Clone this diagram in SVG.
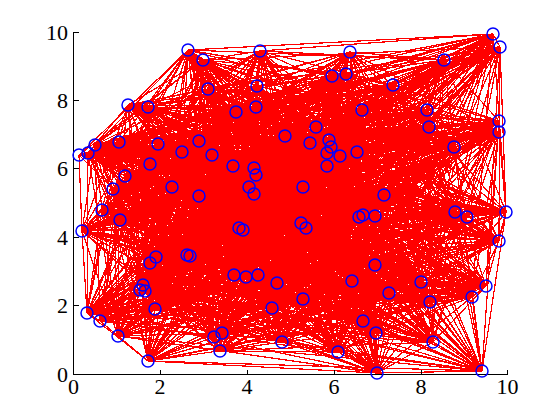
<svg xmlns="http://www.w3.org/2000/svg" width="560" height="420" viewBox="0 0 560 420">
<style>
.e{fill:none;stroke:#ff0000;stroke-width:1.2;stroke-linejoin:round;shape-rendering:crispEdges}
.n circle{fill:none;stroke:#0000ff;stroke-width:1.5}
.ax{stroke:#000;stroke-width:1;fill:none;shape-rendering:crispEdges}
.t{font-family:"Liberation Serif","Times New Roman",serif;font-size:22px;fill:#000}
.ty{text-anchor:end}
.tx{text-anchor:middle}
</style>
<rect width="560" height="420" fill="#fff"/>
<g id="edges">
<polyline class="e" points="79,155 88,153 95,145 119,142 128,105 148,107 158,144 150,164 125,176 113,189 172,187 182,152 188,50 203,60 260,51 208,89 257,86 256,107 236,112 285,136 199,141 212,155 233,166 254,168 256,175 249,187 254,194 199,196 350,52 332,76 346,74 393,85 362,110 316,127 310,143 329,140 331,147 327,153 340,156 357,152 327,166 303,187 384,195 493,34 500,47 444,60 427,110 429,127 499,121 499,132 454,147 102,210 120,220 82,231 156,257 150,263 143,285 140,290 145,291 155,309 87,313 100,321 118,336 148,361 239,228 243,230 187,255 190,256 234,275 246,277 258,275 277,283 272,308 222,333 214,337 220,351 282,342 359,217 363,215 375,216 301,223 306,228 375,265 352,281 389,293 303,299 363,321 376,333 338,352 377,373 455,212 467,217 506,212 499,241 421,282 486,286 472,297 430,302 433,342 482,371"/>
<polyline class="e" points="79,155 119,142 158,144 113,189 188,50 208,89 236,112 212,155 256,175 199,196 346,74 316,127 331,147 357,152 384,195 444,60 499,121 102,210 156,257 140,290 87,313 148,361 187,255 246,277 272,308 220,351 363,215 306,228 389,293 376,333 455,212 499,241 472,297 482,371 95,145 148,107 125,176 182,152 260,51 256,107 199,141 254,168 254,194 332,76 362,110 329,140 340,156 303,187 500,47 429,127 454,147 82,231 143,285 155,309 118,336 243,230 234,275 277,283 214,337 359,217 301,223 352,281 363,321 377,373 506,212 486,286 433,342 88,153 128,105 150,164 172,187 203,60 257,86 285,136 233,166 249,187 350,52 393,85 310,143 327,153 327,166 493,34 427,110 499,132 120,220 150,263 145,291 100,321 239,228 190,256 258,275 222,333 282,342 375,216 375,265 303,299 338,352 467,217 421,282 430,302"/>
<polyline class="e" points="79,155 150,164 260,51 212,155 350,52 329,140 384,195 499,132 143,285 148,361 258,275 359,217 389,293 467,217 433,342 148,107 188,50 285,136 254,194 316,127 327,166 429,127 156,257 100,321 234,275 220,351 375,265 377,373 472,297 119,142 172,187 256,107 256,175 393,85 340,156 444,60 120,220 155,309 187,255 222,333 301,223 376,333 421,282 88,153 125,176 208,89 233,166 332,76 331,147 493,34 454,147 140,290 239,228 277,283 363,215 303,299 506,212 482,371 158,144 203,60 199,141 199,196 310,143 303,187 499,121 150,263 118,336 246,277 282,342 352,281 455,212 430,302 128,105 182,152 236,112 249,187 362,110 357,152 427,110 82,231 87,313 190,256 214,337 306,228 338,352 486,286 95,145 113,189 257,86 254,168 346,74 327,153 500,47 102,210 145,291 243,230 272,308 375,216 363,321 499,241"/>
<polyline class="e" points="79,155 113,189 236,112 199,196 331,147 444,60 156,257 148,361 272,308 306,228 455,212 482,371 125,176 256,107 254,194 329,140 500,47 82,231 118,336 277,283 301,223 377,373 433,342 150,164 257,86 249,187 310,143 493,34 120,220 100,321 258,275 375,216 338,352 430,302 158,144 208,89 256,175 316,127 384,195 102,210 87,313 246,277 363,215 376,333 472,297 148,107 260,51 254,168 362,110 303,187 454,147 155,309 234,275 359,217 363,321 486,286 128,105 203,60 233,166 393,85 327,166 499,132 145,291 190,256 282,342 303,299 421,282 119,142 188,50 212,155 346,74 357,152 499,121 140,290 187,255 220,351 389,293 499,241 95,145 182,152 199,141 332,76 340,156 429,127 143,285 243,230 214,337 352,281 506,212 88,153 172,187 285,136 350,52 327,153 427,110 150,263 239,228 222,333 375,265 467,217"/>
<polyline class="e" points="79,155 182,152 233,166 316,127 500,47 150,263 187,255 359,217 338,352 482,371 172,187 212,155 362,110 493,34 156,257 243,230 282,342 376,333 433,342 113,189 199,141 393,85 384,195 82,231 239,228 220,351 363,321 430,302 125,176 285,136 346,74 303,187 120,220 148,361 214,337 303,299 472,297 150,164 236,112 332,76 327,166 102,210 118,336 222,333 389,293 486,286 158,144 256,107 350,52 357,152 454,147 100,321 272,308 352,281 421,282 148,107 257,86 199,196 340,156 499,132 87,313 277,283 375,265 499,241 128,105 208,89 254,194 327,153 499,121 155,309 258,275 306,228 506,212 119,142 260,51 249,187 331,147 429,127 145,291 246,277 301,223 467,217 95,145 203,60 256,175 329,140 427,110 140,290 234,275 375,216 455,212 88,153 188,50 254,168 310,143 444,60 143,285 190,256 363,215 377,373"/>
<polyline class="e" points="79,155 203,60 254,194 357,152 120,220 243,230 363,215 467,217 128,105 256,107 346,74 493,34 143,285 246,277 375,265 486,286 125,176 212,155 310,143 429,127 87,313 222,333 363,321 482,371 188,50 249,187 340,156 102,210 239,228 359,217 455,212 119,142 257,86 332,76 384,195 150,263 234,275 306,228 421,282 150,164 199,141 316,127 427,110 155,309 272,308 303,299 433,342 182,152 256,175 327,153 454,147 148,361 282,342 377,373 95,145 208,89 350,52 303,187 156,257 190,256 301,223 499,241 158,144 285,136 362,110 444,60 145,291 277,283 389,293 430,302 172,187 254,168 331,147 499,132 118,336 220,351 338,352 88,153 260,51 199,196 327,166 82,231 187,255 375,216 506,212 148,107 236,112 393,85 500,47 140,290 258,275 352,281 472,297 113,189 233,166 329,140 499,121 100,321 214,337 376,333"/>
<polyline class="e" points="79,155 256,107 310,143 102,210 234,275 303,299 95,145 285,136 331,147 82,231 258,275 376,333 128,105 212,155 340,156 150,263 272,308 377,373 158,144 254,168 327,166 140,290 214,337 467,217 125,176 249,187 384,195 155,309 282,342 499,241 172,187 199,196 500,47 100,321 363,215 486,286 188,50 332,76 427,110 148,361 301,223 430,302 260,51 393,85 499,121 243,230 375,265 482,371 257,86 316,127 454,147 190,256 389,293 88,153 236,112 329,140 120,220 246,277 363,321 119,142 199,141 327,153 156,257 277,283 338,352 148,107 233,166 357,152 143,285 222,333 455,212 150,164 256,175 303,187 145,291 220,351 506,212 113,189 254,194 493,34 87,313 359,217 421,282 182,152 350,52 444,60 118,336 375,216 472,297 203,60 346,74 429,127 239,228 306,228 433,342 208,89 362,110 499,132 187,255 352,281"/>
<polyline class="e" points="79,155 285,136 340,156 140,290 282,342 486,286 260,51 316,127 120,220 277,283 455,212 113,189 350,52 429,127 190,256 303,299 128,105 254,168 384,195 100,321 301,223 482,371 236,112 327,153 143,285 220,351 421,282 203,60 362,110 102,210 258,275 377,373 125,176 199,196 427,110 243,230 389,293 119,142 233,166 303,187 87,313 375,216 433,342 256,107 331,147 150,263 214,337 499,241 188,50 393,85 454,147 246,277 338,352 150,164 254,194 444,60 239,228 352,281 95,145 212,155 327,166 155,309 363,215 430,302 257,86 329,140 156,257 222,333 506,212 182,152 346,74 499,132 234,275 376,333 158,144 249,187 500,47 148,361 375,265 88,153 199,141 357,152 145,291 359,217 472,297 208,89 310,143 82,231 272,308 467,217 172,187 332,76 499,121 190,256 363,321 148,107 256,175 493,34 118,336 306,228"/>
<polyline class="e" points="79,155 212,155 384,195 148,361 389,293 148,107 254,194 429,127 234,275 377,373 172,187 393,85 120,220 222,333 421,282 208,89 331,147 140,290 363,215 482,371 199,141 303,187 118,336 352,281 128,105 249,187 427,110 190,256 338,352 113,189 346,74 102,210 272,308 499,241 260,51 329,140 143,285 359,217 433,342 285,136 327,166 100,321 375,265 119,142 256,175 444,60 187,255 376,333 125,176 332,76 454,147 277,283 506,212 203,60 310,143 150,263 282,342 430,302 236,112 357,152 87,313 306,228 95,145 254,168 500,47 243,230 363,321 150,164 350,52 499,132 258,275 467,217 188,50 316,127 156,257 220,351 472,297 256,107 340,156 155,309 301,223 88,153 233,166 493,34 239,228 303,299 158,144 199,196 499,121 246,277 455,212 182,152 362,110 82,231 214,337 486,286 257,86 327,153 145,291 375,216"/>
<polyline class="e" points="79,155 254,168 427,110 246,277 506,212 208,89 340,156 100,321 389,293 150,164 346,74 82,231 282,342 482,371 233,166 444,60 234,275 467,217 260,51 327,153 87,313 352,281 158,144 332,76 120,220 220,351 433,342 212,155 500,47 190,256 455,212 203,60 331,147 155,309 375,265 148,107 350,52 102,210 214,337 430,302 199,141 493,34 187,255 377,373 188,50 329,140 145,291 306,228 128,105 199,196 454,147 222,333 472,297 285,136 384,195 243,230 338,352 182,152 310,143 140,290 301,223 119,142 254,194 499,132 272,308 486,286 236,112 303,187 239,228 376,333 172,187 316,127 143,285 375,216 95,145 249,187 499,121 277,283 421,282 256,107 327,166 148,361 363,321 113,189 362,110 150,263 363,215 88,153 256,175 429,127 258,275 499,241 257,86 357,152 118,336 303,299 125,176 393,85 156,257 359,217"/>
<polyline class="e" points="79,155 199,196 156,257 306,228 125,176 329,140 118,336 377,373 257,86 493,34 258,275 430,302 256,175 102,210 363,215 148,107 362,110 155,309 363,321 203,60 327,166 190,256 421,282 212,155 499,121 220,351 95,145 332,76 143,285 352,281 172,187 327,153 239,228 467,217 236,112 444,60 272,308 482,371 254,194 82,231 301,223 150,164 310,143 100,321 338,352 208,89 384,195 246,277 472,297 254,168 454,147 359,217 128,105 393,85 145,291 303,299 188,50 357,152 187,255 499,241 199,141 429,127 214,337 88,153 350,52 150,263 375,265 113,189 331,147 148,361 455,212 256,107 500,47 277,283 433,342 249,187 120,220 375,216 158,144 316,127 87,313 376,333 260,51 303,187 234,275 486,286 233,166 499,132 282,342 119,142 346,74 140,290 389,293 182,152 340,156 243,230 506,212 285,136 427,110 222,333"/>
<polyline class="e" points="79,155 332,76 145,291 376,333 257,86 444,60 214,337 119,142 362,110 100,321 455,212 285,136 499,121 359,217 158,144 329,140 239,228 499,241 233,166 102,210 301,223 113,189 340,156 190,256 472,297 249,187 156,257 352,281 188,50 303,187 258,275 482,371 350,52 140,290 363,321 208,89 500,47 222,333 95,145 393,85 87,313 377,373 236,112 429,127 282,342 148,107 310,143 148,361 506,212 212,155 454,147 375,216 125,176 327,153 187,255 486,286 256,175 82,231 375,265 182,152 327,166 246,277 433,342 199,196 143,285 303,299 260,51 493,34 272,308 88,153 346,74 155,309 338,352 256,107 427,110 220,351 128,105 316,127 118,336 467,217 199,141 499,132 363,215 150,164 331,147 243,230 421,282 254,168 120,220 306,228 172,187 357,152 234,275 430,302 254,194 150,263 389,293 203,60 384,195 277,283"/>
<polyline class="e" points="79,155 393,85 118,336 499,241 256,175 150,263 363,321 256,107 499,121 375,216 172,187 303,187 272,308 119,142 310,143 243,230 472,297 199,196 145,291 377,373 199,141 102,210 375,265 203,60 500,47 220,351 158,144 327,153 234,275 482,371 346,74 100,321 506,212 254,168 156,257 303,299 257,86 429,127 363,215 113,189 327,166 277,283 95,145 316,127 239,228 486,286 254,194 140,290 338,352 285,136 454,147 306,228 188,50 493,34 214,337 148,107 331,147 190,256 433,342 332,76 87,313 467,217 233,166 82,231 389,293 208,89 427,110 359,217 125,176 357,152 258,275 88,153 362,110 148,361 421,282 249,187 143,285 376,333 236,112 499,132 301,223 182,152 384,195 222,333 128,105 329,140 187,255 430,302 350,52 155,309 455,212 212,155 120,220 352,281 260,51 444,60 282,342 150,164 340,156 246,277"/>
<polyline class="e" points="79,155 316,127 187,255 482,371 362,110 243,230 433,342 393,85 239,228 430,302 346,74 148,361 472,297 332,76 118,336 486,286 350,52 100,321 421,282 199,196 87,313 499,241 254,194 155,309 506,212 249,187 145,291 467,217 256,175 140,290 455,212 254,168 143,285 377,373 233,166 150,263 338,352 212,155 156,257 376,333 199,141 82,231 363,321 285,136 120,220 303,299 236,112 102,210 389,293 256,107 454,147 352,281 257,86 499,132 375,265 208,89 499,121 306,228 260,51 429,127 301,223 203,60 427,110 375,216 188,50 444,60 363,215 182,152 500,47 359,217 172,187 493,34 282,342 113,189 384,195 220,351 125,176 303,187 214,337 150,164 327,166 222,333 158,144 357,152 272,308 148,107 340,156 277,283 128,105 327,153 258,275 119,142 331,147 246,277 95,145 329,140 234,275 88,153 310,143 190,256"/>
<polyline class="e" points="79,155 327,153 214,337 182,152 499,121 303,299 233,166 155,309 472,297 316,127 258,275 150,164 500,47 306,228 236,112 150,263 506,212 332,76 187,255 119,142 327,166 359,217 260,51 102,210 338,352 249,187 118,336 482,371 331,147 222,333 172,187 429,127 389,293 212,155 145,291 486,286 362,110 246,277 158,144 493,34 301,223 256,107 156,257 467,217 350,52 243,230 95,145 357,152 282,342 203,60 454,147 376,333 256,175 100,321 433,342 329,140 272,308 113,189 427,110 352,281 199,141 140,290 421,282 393,85 234,275 148,107 384,195 375,216 257,86 82,231 455,212 199,196 239,228 88,153 340,156 220,351 188,50 499,132 363,321 254,168 87,313 430,302 310,143 277,283 125,176 444,60 375,265 285,136 143,285 499,241 346,74 190,256 128,105 303,187 363,215 208,89 120,220 377,373 254,194 148,361"/>
<polyline class="e" points="79,155 357,152 363,215 256,107 143,285 486,286 310,143 222,333 188,50 102,210 455,212 332,76 234,275 150,164 427,110 303,299 256,175 148,361 95,145 303,187 301,223 285,136 145,291 430,302 331,147 220,351 260,51 82,231 506,212 393,85 258,275 113,189 499,121 376,333 254,194 243,230 128,105 493,34 375,265 212,155 87,313 482,371 340,156 359,217 257,86 150,263 421,282 316,127 272,308 182,152 454,147 377,373 350,52 190,256 158,144 444,60 389,293 254,168 118,336 88,153 327,166 375,216 236,112 140,290 472,297 329,140 214,337 203,60 120,220 467,217 346,74 246,277 125,176 429,127 363,321 249,187 239,228 119,142 384,195 306,228 199,141 155,309 433,342 327,153 282,342 208,89 156,257 499,241 362,110 277,283 172,187 499,132 338,352 199,196 187,255 148,107 500,47 352,281 233,166 100,321"/>
<polyline class="e" points="79,155 303,187 375,265 254,168 239,228 148,107 427,110 376,333 350,52 246,277 172,187 102,210 506,212 316,127 214,337 208,89 143,285 430,302 340,156 375,216 199,141 100,321 95,145 493,34 389,293 249,187 187,255 150,164 499,121 377,373 346,74 277,283 188,50 82,231 421,282 329,140 282,342 256,107 145,291 482,371 327,166 306,228 233,166 148,361 128,105 444,60 363,321 199,196 234,275 113,189 454,147 467,217 362,110 222,333 260,51 150,263 472,297 327,153 363,215 285,136 87,313 88,153 384,195 352,281 256,175 243,230 158,144 429,127 338,352 332,76 258,275 182,152 120,220 499,241 310,143 220,351 257,86 140,290 433,342 357,152 301,223 212,155 118,336 119,142 500,47 303,299 254,194 190,256 125,176 499,132 455,212 393,85 272,308 203,60 156,257 486,286 331,147 359,217 236,112 155,309"/>
<polyline class="e" points="79,155 493,34 363,321 332,76 272,308 208,89 145,291 88,153 500,47 376,333 346,74 222,333 257,86 155,309 95,145 444,60 338,352 393,85 214,337 256,107 87,313 119,142 427,110 377,373 362,110 220,351 236,112 100,321 128,105 429,127 455,212 316,127 282,342 285,136 118,336 148,107 499,121 467,217 310,143 359,217 199,141 148,361 158,144 499,132 506,212 329,140 363,215 212,155 239,228 150,164 454,147 499,241 331,147 375,216 233,166 243,230 125,176 102,210 421,282 327,153 301,223 254,168 187,255 113,189 120,220 486,286 340,156 306,228 256,175 190,256 172,187 82,231 472,297 357,152 375,265 249,187 234,275 182,152 156,257 430,302 327,166 352,281 254,194 246,277 188,50 150,263 433,342 303,187 389,293 199,196 258,275 203,60 143,285 482,371 384,195 303,299 350,52 277,283 260,51 140,290"/>
<polyline class="e" points="79,155 429,127 421,282 303,187 338,352 329,140 375,265 332,76 282,342 254,168 258,275 256,107 239,228 182,152 145,291 148,107 120,220 482,371 427,110 499,241 327,166 376,333 310,143 306,228 350,52 220,351 233,166 246,277 257,86 148,361 172,187 140,290 128,105 102,210 433,342 444,60 506,212 357,152 363,321 316,127 301,223 199,196 214,337 212,155 234,275 208,89 118,336 113,189 143,285 119,142 454,147 430,302 500,47 467,217 340,156 303,299 362,110 375,216 254,194 222,333 199,141 190,256 260,51 100,321 125,176 150,263 95,145 499,132 472,297 493,34 455,212 327,153 389,293 393,85 363,215 249,187 272,308 285,136 187,255 203,60 87,313 150,164 156,257 88,153 499,121 486,286 384,195 377,373 331,147 352,281 346,74 359,217 256,175 277,283 236,112 243,230 188,50 155,309 158,144 82,231"/>
<polyline class="e" points="79,155 499,132 433,342 429,127 472,297 444,60 421,282 493,34 506,212 303,187 455,212 357,152 338,352 327,153 363,321 329,140 389,293 316,127 375,265 393,85 301,223 332,76 363,215 199,196 282,342 249,187 214,337 254,168 272,308 212,155 258,275 285,136 234,275 256,107 187,255 208,89 239,228 203,60 118,336 182,152 87,313 113,189 145,291 150,164 143,285 148,107 156,257 119,142 120,220 88,153 454,147 482,371 499,121 430,302 427,110 486,286 500,47 499,241 384,195 467,217 327,166 377,373 340,156 376,333 331,147 303,299 310,143 352,281 362,110 306,228 346,74 375,216 350,52 359,217 254,194 220,351 256,175 222,333 233,166 277,283 199,141 246,277 236,112 190,256 257,86 243,230 260,51 148,361 188,50 100,321 172,187 155,309 125,176 140,290 158,144 150,263 128,105 82,231 95,145 102,210"/>
<polyline class="e" points="82,231 79,155 188,50"/>
<polyline class="e" points="148,361 377,373 482,371 148,361"/>
<polyline class="e" points="500,47 506,212"/>
</g>
<g id="axes">
<path class="ax" d="M73.5,32V374.5H508M73.5,305.5h5M73.5,237.5h5M73.5,168.5h5M73.5,100.5h5M73.5,32.5h5M160.5,374.5v-5M247.5,374.5v-5M334.5,374.5v-5M421.5,374.5v-5M507.5,374.5v-5"/>
<text class="t ty" x="68" y="381.5">0</text>
<text class="t ty" x="68" y="313">2</text>
<text class="t ty" x="68" y="244.5">4</text>
<text class="t ty" x="68" y="176">6</text>
<text class="t ty" x="68" y="107.5">8</text>
<text class="t ty" x="68" y="39.5">10</text>
<text class="t tx" x="73.5" y="393.5">0</text>
<text class="t tx" x="160" y="393.5">2</text>
<text class="t tx" x="247" y="393.5">4</text>
<text class="t tx" x="334" y="393.5">6</text>
<text class="t tx" x="421" y="393.5">8</text>
<text class="t tx" x="507.5" y="393.5">10</text>
</g>
<g id="n0" class="n"><circle cx="79" cy="155" r="6"/></g>
<g id="n1" class="n"><circle cx="88" cy="153" r="6"/></g>
<g id="n2" class="n"><circle cx="95" cy="145" r="6"/></g>
<g id="n3" class="n"><circle cx="119" cy="142" r="6"/></g>
<g id="n4" class="n"><circle cx="128" cy="105" r="6"/></g>
<g id="n5" class="n"><circle cx="148" cy="107" r="6"/></g>
<g id="n6" class="n"><circle cx="158" cy="144" r="6"/></g>
<g id="n7" class="n"><circle cx="150" cy="164" r="6"/></g>
<g id="n8" class="n"><circle cx="125" cy="176" r="6"/></g>
<g id="n9" class="n"><circle cx="113" cy="189" r="6"/></g>
<g id="n10" class="n"><circle cx="172" cy="187" r="6"/></g>
<g id="n11" class="n"><circle cx="182" cy="152" r="6"/></g>
<g id="n12" class="n"><circle cx="188" cy="50" r="6"/></g>
<g id="n13" class="n"><circle cx="203" cy="60" r="6"/></g>
<g id="n14" class="n"><circle cx="260" cy="51" r="6"/></g>
<g id="n15" class="n"><circle cx="208" cy="89" r="6"/></g>
<g id="n16" class="n"><circle cx="257" cy="86" r="6"/></g>
<g id="n17" class="n"><circle cx="256" cy="107" r="6"/></g>
<g id="n18" class="n"><circle cx="236" cy="112" r="6"/></g>
<g id="n19" class="n"><circle cx="285" cy="136" r="6"/></g>
<g id="n20" class="n"><circle cx="199" cy="141" r="6"/></g>
<g id="n21" class="n"><circle cx="212" cy="155" r="6"/></g>
<g id="n22" class="n"><circle cx="233" cy="166" r="6"/></g>
<g id="n23" class="n"><circle cx="254" cy="168" r="6"/></g>
<g id="n24" class="n"><circle cx="256" cy="175" r="6"/></g>
<g id="n25" class="n"><circle cx="249" cy="187" r="6"/></g>
<g id="n26" class="n"><circle cx="254" cy="194" r="6"/></g>
<g id="n27" class="n"><circle cx="199" cy="196" r="6"/></g>
<g id="n28" class="n"><circle cx="350" cy="52" r="6"/></g>
<g id="n29" class="n"><circle cx="332" cy="76" r="6"/></g>
<g id="n30" class="n"><circle cx="346" cy="74" r="6"/></g>
<g id="n31" class="n"><circle cx="393" cy="85" r="6"/></g>
<g id="n32" class="n"><circle cx="362" cy="110" r="6"/></g>
<g id="n33" class="n"><circle cx="316" cy="127" r="6"/></g>
<g id="n34" class="n"><circle cx="310" cy="143" r="6"/></g>
<g id="n35" class="n"><circle cx="329" cy="140" r="6"/></g>
<g id="n36" class="n"><circle cx="331" cy="147" r="6"/></g>
<g id="n37" class="n"><circle cx="327" cy="153" r="6"/></g>
<g id="n38" class="n"><circle cx="340" cy="156" r="6"/></g>
<g id="n39" class="n"><circle cx="357" cy="152" r="6"/></g>
<g id="n40" class="n"><circle cx="327" cy="166" r="6"/></g>
<g id="n41" class="n"><circle cx="303" cy="187" r="6"/></g>
<g id="n42" class="n"><circle cx="384" cy="195" r="6"/></g>
<g id="n43" class="n"><circle cx="493" cy="34" r="6"/></g>
<g id="n44" class="n"><circle cx="500" cy="47" r="6"/></g>
<g id="n45" class="n"><circle cx="444" cy="60" r="6"/></g>
<g id="n46" class="n"><circle cx="427" cy="110" r="6"/></g>
<g id="n47" class="n"><circle cx="429" cy="127" r="6"/></g>
<g id="n48" class="n"><circle cx="499" cy="121" r="6"/></g>
<g id="n49" class="n"><circle cx="499" cy="132" r="6"/></g>
<g id="n50" class="n"><circle cx="454" cy="147" r="6"/></g>
<g id="n51" class="n"><circle cx="102" cy="210" r="6"/></g>
<g id="n52" class="n"><circle cx="120" cy="220" r="6"/></g>
<g id="n53" class="n"><circle cx="82" cy="231" r="6"/></g>
<g id="n54" class="n"><circle cx="156" cy="257" r="6"/></g>
<g id="n55" class="n"><circle cx="150" cy="263" r="6"/></g>
<g id="n56" class="n"><circle cx="143" cy="285" r="6"/></g>
<g id="n57" class="n"><circle cx="140" cy="290" r="6"/></g>
<g id="n58" class="n"><circle cx="145" cy="291" r="6"/></g>
<g id="n59" class="n"><circle cx="155" cy="309" r="6"/></g>
<g id="n60" class="n"><circle cx="87" cy="313" r="6"/></g>
<g id="n61" class="n"><circle cx="100" cy="321" r="6"/></g>
<g id="n62" class="n"><circle cx="118" cy="336" r="6"/></g>
<g id="n63" class="n"><circle cx="148" cy="361" r="6"/></g>
<g id="n64" class="n"><circle cx="239" cy="228" r="6"/></g>
<g id="n65" class="n"><circle cx="243" cy="230" r="6"/></g>
<g id="n66" class="n"><circle cx="187" cy="255" r="6"/></g>
<g id="n67" class="n"><circle cx="190" cy="256" r="6"/></g>
<g id="n68" class="n"><circle cx="234" cy="275" r="6"/></g>
<g id="n69" class="n"><circle cx="246" cy="277" r="6"/></g>
<g id="n70" class="n"><circle cx="258" cy="275" r="6"/></g>
<g id="n71" class="n"><circle cx="277" cy="283" r="6"/></g>
<g id="n72" class="n"><circle cx="272" cy="308" r="6"/></g>
<g id="n73" class="n"><circle cx="222" cy="333" r="6"/></g>
<g id="n74" class="n"><circle cx="214" cy="337" r="6"/></g>
<g id="n75" class="n"><circle cx="220" cy="351" r="6"/></g>
<g id="n76" class="n"><circle cx="282" cy="342" r="6"/></g>
<g id="n77" class="n"><circle cx="359" cy="217" r="6"/></g>
<g id="n78" class="n"><circle cx="363" cy="215" r="6"/></g>
<g id="n79" class="n"><circle cx="375" cy="216" r="6"/></g>
<g id="n80" class="n"><circle cx="301" cy="223" r="6"/></g>
<g id="n81" class="n"><circle cx="306" cy="228" r="6"/></g>
<g id="n82" class="n"><circle cx="375" cy="265" r="6"/></g>
<g id="n83" class="n"><circle cx="352" cy="281" r="6"/></g>
<g id="n84" class="n"><circle cx="389" cy="293" r="6"/></g>
<g id="n85" class="n"><circle cx="303" cy="299" r="6"/></g>
<g id="n86" class="n"><circle cx="363" cy="321" r="6"/></g>
<g id="n87" class="n"><circle cx="376" cy="333" r="6"/></g>
<g id="n88" class="n"><circle cx="338" cy="352" r="6"/></g>
<g id="n89" class="n"><circle cx="377" cy="373" r="6"/></g>
<g id="n90" class="n"><circle cx="455" cy="212" r="6"/></g>
<g id="n91" class="n"><circle cx="467" cy="217" r="6"/></g>
<g id="n92" class="n"><circle cx="506" cy="212" r="6"/></g>
<g id="n93" class="n"><circle cx="499" cy="241" r="6"/></g>
<g id="n94" class="n"><circle cx="421" cy="282" r="6"/></g>
<g id="n95" class="n"><circle cx="486" cy="286" r="6"/></g>
<g id="n96" class="n"><circle cx="472" cy="297" r="6"/></g>
<g id="n97" class="n"><circle cx="430" cy="302" r="6"/></g>
<g id="n98" class="n"><circle cx="433" cy="342" r="6"/></g>
<g id="n99" class="n"><circle cx="482" cy="371" r="6"/></g>
</svg>
